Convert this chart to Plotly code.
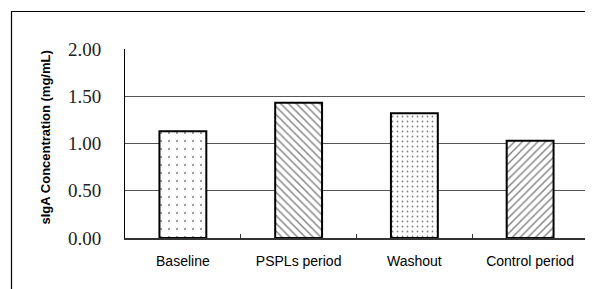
import plotly.graph_objects as go

categories = ["Baseline", "PSPLs period", "Washout", "Control period"]
values = [1.13, 1.43, 1.32, 1.03]
y_ticks = [0.0, 0.5, 1.0, 1.5, 2.0]
y_tick_labels = ["0.00", "0.50", "1.00", "1.50", "2.00"]
y_title = "sIgA Concentration (mg/mL)"

OFF = 8  # default body margin of the page
W, H = 593 - OFF, 289 - OFF
ML, MT = 125 - OFF, 49 - OFF
pw, ph = 463, 189
MR, MB = W - ML - pw, H - MT - ph

fig = go.Figure(go.Bar(
    x=categories, y=values, width=0.405,
    marker=dict(
        color="white",
        line=dict(color="black", width=2),
        pattern=dict(shape=[".", "\\", ".", "/"], size=[8, 5.5, 5, 5.5],
                     solidity=[0.05, 0.25, 0.1, 0.25],
                     fgcolor="black", bgcolor="white", fillmode="overlay"),
    ),
))

fig.update_layout(
    width=W, height=H, margin=dict(l=ML, r=MR, t=MT, b=MB),
    paper_bgcolor="white", plot_bgcolor="white", showlegend=False,
    xaxis=dict(
        showline=True, linecolor="#333", linewidth=1.5,
        ticks="inside", tickson="boundaries", ticklen=4, tickcolor="#333",
        tickfont=dict(family="Liberation Sans, Arial", size=14, color="black"),
        ticklabelstandoff=9, showgrid=False,
    ),
    yaxis=dict(
        range=[0, 2], tickvals=y_ticks, ticktext=y_tick_labels,
        showline=True, linecolor="black", linewidth=1,
        showgrid=True, gridcolor="#555", gridwidth=1.2, zeroline=False,
        tickfont=dict(family="Liberation Serif, Times New Roman", size=19, color="#222"),
        ticks="", ticklabelstandoff=19,
    ),
    annotations=[dict(
        text="<b>" + y_title + "</b>", textangle=-90,
        xref="paper", yref="paper",
        x=(45 - OFF - ML) / pw, y=(H - MB - (137.5 - OFF)) / ph,
        xanchor="center", yanchor="middle", showarrow=False,
        font=dict(family="Liberation Sans, Arial", size=13, color="black"),
    )],
    shapes=[dict(
        type="path", xref="paper", yref="paper",
        path="M {x0},{y0} L {x1},{y1} L {x2},{y1}".format(
            x0=(11.5 - OFF - ML) / pw, y0=(H - MB - 300) / ph,
            x1=(11.5 - OFF - ML) / pw, y1=(H - MB - (11.5 - OFF)) / ph,
            x2=(600 - ML) / pw),
        line=dict(color="black", width=1.2),
    )],
)

fig.write_html("out.html")
